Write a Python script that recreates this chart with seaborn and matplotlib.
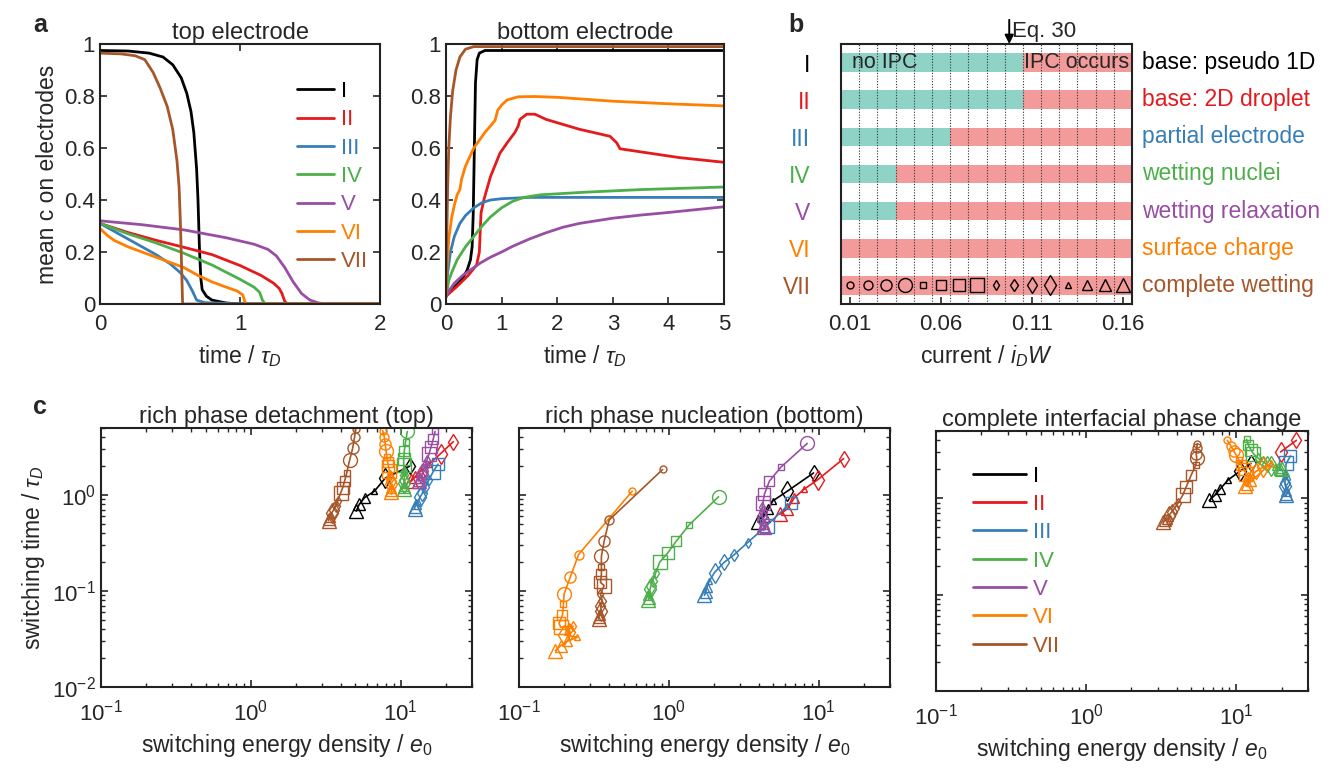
import numpy as np
import pandas as pd
import matplotlib
matplotlib.use("Agg")
import matplotlib.pyplot as plt
import matplotlib.transforms as mtransforms
from matplotlib.ticker import FuncFormatter, LogLocator, NullFormatter
import seaborn as sns

nan = np.nan
series = ["I", "II", "III", "IV", "V", "VI", "VII"]
colors = ["#000000", "#e41a1c", "#377eb8", "#4daf4a", "#984ea3", "#ff7f00", "#a65628"]
case_names = ["base: pseudo 1D", "base: 2D droplet", "partial electrode", "wetting nuclei",
              "wetting relaxation", "surface charge", "complete wetting"]

# ---- panel a: mean c on electrodes vs time ----
top_time = {
    "I": [0, 0.2, 0.35, 0.45, 0.52, 0.58, 0.62, 0.65, 0.67, 0.69, 0.70, 0.71, 0.72, 0.73, 0.76, 0.80, 0.9, 1.0, 2.0],
    "II": [0, 0.2, 0.4, 0.6, 0.8, 1.0, 1.15, 1.24, 1.28, 1.30, 1.32, 1.34, 2.0],
    "III": [0, 0.1, 0.2, 0.3, 0.4, 0.5, 0.575, 0.62, 0.66, 0.69, 0.75, 1.0, 2.0],
    "IV": [0, 0.2, 0.4, 0.6, 0.8, 1.0, 1.1, 1.14, 1.16, 1.18, 2.0],
    "V": [0, 0.3, 0.6, 0.9, 1.1, 1.2, 1.26, 1.32, 1.38, 1.44, 1.5, 1.56, 1.62, 2.0],
    "VI": [0, 0.05, 0.1, 0.2, 0.3, 0.4, 0.5, 0.6, 0.7, 0.8, 0.9, 0.98, 1.02, 1.04, 2.0],
    "VII": [0, 0.15, 0.25, 0.32, 0.38, 0.43, 0.48, 0.52, 0.55, 0.565, 0.575, 0.585, 0.59, 2.0],
}
top_conc = {
    "I": [0.975, 0.973, 0.965, 0.95, 0.92, 0.87, 0.81, 0.74, 0.66, 0.52, 0.40, 0.22, 0.10, 0.055, 0.03, 0.015, 0.004, 0.0, 0.0],
    "II": [0.31, 0.275, 0.245, 0.218, 0.19, 0.148, 0.11, 0.08, 0.06, 0.04, 0.01, 0.0, 0.0],
    "III": [0.31, 0.28, 0.25, 0.22, 0.19, 0.155, 0.12, 0.09, 0.05, 0.015, 0.005, 0.001, 0.0],
    "IV": [0.31, 0.27, 0.235, 0.195, 0.15, 0.095, 0.065, 0.045, 0.015, 0.0, 0.0],
    "V": [0.32, 0.305, 0.285, 0.255, 0.23, 0.21, 0.185, 0.14, 0.085, 0.04, 0.015, 0.004, 0.0, 0.0],
    "VI": [0.29, 0.265, 0.245, 0.22, 0.2, 0.18, 0.16, 0.14, 0.11, 0.085, 0.065, 0.05, 0.035, 0.0, 0.0],
    "VII": [0.965, 0.962, 0.955, 0.94, 0.89, 0.83, 0.76, 0.67, 0.55, 0.45, 0.30, 0.10, 0.0, 0.0],
}
bot_time = {
    "I": [0, 0.1, 0.2, 0.3, 0.38, 0.44, 0.47, 0.49, 0.51, 0.53, 0.56, 0.6, 0.7, 5],
    "II": [0, 0.2, 0.4, 0.55, 0.6, 0.63, 0.68, 0.8, 0.97, 1.1, 1.24, 1.3, 1.33, 1.45, 1.6, 1.8, 2.4, 2.95, 3.07, 3.13, 3.6, 4.2, 5],
    "III": [0, 0.03, 0.08, 0.15, 0.25, 0.35, 0.5, 0.65, 0.8, 1.0, 1.5, 3, 5],
    "IV": [0, 0.05, 0.1, 0.2, 0.35, 0.5, 0.65, 0.8, 1.0, 1.2, 1.4, 1.7, 2.5, 3.5, 5],
    "V": [0, 0.05, 0.15, 0.3, 0.5, 0.62, 0.8, 1.0, 1.2, 1.5, 1.8, 2.1, 2.4, 3.0, 3.5, 4.0, 4.5, 5],
    "VI": [0, 0.02, 0.05, 0.1, 0.15, 0.2, 0.25, 0.28, 0.35, 0.5, 0.7, 0.88, 0.93, 1.0, 1.1, 1.3, 1.6, 2.0, 3.0, 4.0, 5],
    "VII": [0, 0.01, 0.03, 0.05, 0.08, 0.12, 0.18, 0.25, 0.35, 0.5, 1, 5],
}
bot_conc = {
    "I": [0.03, 0.055, 0.075, 0.1, 0.13, 0.17, 0.22, 0.35, 0.6, 0.85, 0.94, 0.965, 0.975, 0.975],
    "II": [0.03, 0.068, 0.11, 0.15, 0.2, 0.35, 0.4, 0.49, 0.58, 0.62, 0.66, 0.685, 0.71, 0.73, 0.73, 0.71, 0.672, 0.645, 0.62, 0.597, 0.582, 0.563, 0.545],
    "III": [0.03, 0.12, 0.2, 0.26, 0.31, 0.34, 0.37, 0.39, 0.4, 0.405, 0.41, 0.41, 0.41],
    "IV": [0.03, 0.09, 0.12, 0.17, 0.22, 0.26, 0.3, 0.335, 0.37, 0.395, 0.41, 0.42, 0.43, 0.44, 0.45],
    "V": [0.025, 0.05, 0.08, 0.11, 0.14, 0.158, 0.18, 0.2, 0.222, 0.25, 0.274, 0.295, 0.31, 0.33, 0.342, 0.352, 0.363, 0.374],
    "VI": [0.03, 0.15, 0.25, 0.33, 0.38, 0.42, 0.44, 0.48, 0.53, 0.6, 0.66, 0.705, 0.745, 0.765, 0.785, 0.797, 0.798, 0.795, 0.78, 0.77, 0.762],
    "VII": [0.03, 0.2, 0.45, 0.6, 0.72, 0.82, 0.9, 0.95, 0.98, 0.99, 0.99, 0.99],
}

# ---- panel b: IPC map ----
currents = [0.01, 0.02, 0.03, 0.04, 0.05, 0.06, 0.07, 0.08, 0.09, 0.10, 0.11, 0.12, 0.13, 0.14, 0.15, 0.16]
ipc_onset = [0.11, 0.11, 0.07, 0.04, 0.04, 0.01, 0.01]
eq30_current = 0.0975

# ---- panel c: switching energy / time, one entry per current from IPC onset on ----
det_energy = {
    "I": [11.5, 7.9, 6.7, 5.75, 5.3, 5.06],
    "II": [22.5, 18.5, 15.5, 13.5, 12.5, 11.8],
    "III": [17.8, 16.5, 15.5, 14.6, 14.0, 13.5, 13.0, 12.7, 12.5, 12.4],
    "IV": [11.1, 10.8, 10.6, 10.5, 10.5, 10.6, 10.6, 10.6, 10.6, 10.6, 10.6, 10.6, 10.6],
    "V": [nan, 17.0, 16.5, 16.0, 15.5, 15.0, 14.6, 14.2, 13.9, 13.6, 13.4, 13.3, 13.2],
    "VI": [7.6, 7.8, 7.9, 8.0, 8.1, 8.2, 8.3, 8.4, 8.5, 8.5, 8.6, 8.6, 8.7, 8.7, 8.7, 8.7],
    "VII": [5.01, 4.93, 4.79, 4.57, 4.37, 4.23, 4.1, 3.98, 3.8, 3.69, 3.57, 3.47, 3.41, 3.36, 3.31, 3.31],
}
det_time = {
    "I": [2.0, 1.5, 1.1, 0.94, 0.8, 0.68],
    "II": [3.6, 2.7, 2.1, 1.75, 1.55, 1.4],
    "III": [2.1, 1.75, 1.45, 1.2, 1.05, 0.95, 0.85, 0.8, 0.76, 0.72],
    "IV": [4.6, 3.6, 2.9, 2.4, 2.05, 1.8, 1.6, 1.45, 1.35, 1.28, 1.24, 1.2, 1.17],
    "V": [nan, 4.6, 3.8, 3.2, 2.7, 2.3, 2.0, 1.8, 1.65, 1.55, 1.5, 1.45, 1.4],
    "VI": [4.7, 4.0, 3.4, 2.9, 2.5, 2.2, 2.0, 1.8, 1.6, 1.5, 1.4, 1.3, 1.25, 1.18, 1.12, 1.08],
    "VII": [4.84, 4.0, 3.08, 2.31, 1.69, 1.4, 1.18, 1.05, 0.87, 0.77, 0.7, 0.65, 0.62, 0.59, 0.56, 0.54],
}
nuc_energy = {
    "I": [9.26, 6.2, 4.95, 4.6, 4.3, 3.95],
    "II": [14.7, 9.9, 8.0, 6.9, 6.2, 5.5],
    "III": [6.5, 4.5, 3.36, 2.74, 2.35, 2.02, 1.87, 1.8, 1.76, 1.73],
    "IV": [2.15, 1.37, 1.12, 0.985, 0.87, 0.82, 0.78, 0.76, 0.75, 0.74, 0.73, 0.74, 0.73],
    "V": [8.4, 5.6, 4.7, 4.35, 4.25, 4.2, 4.25, 4.2, 4.25, 4.35, 4.3, 4.25, 4.3],
    "VI": [0.57, 0.25, 0.22, 0.20, 0.198, 0.195, 0.185, 0.19, 0.23, 0.215, 0.22, 0.2, 0.245, 0.21, 0.19, 0.175],
    "VII": [0.91, 0.40, 0.37, 0.355, 0.355, 0.355, 0.35, 0.37, 0.35, 0.36, 0.35, 0.355, 0.35, 0.345, 0.34, 0.34],
}
nuc_time = {
    "I": [1.7, 1.1, 0.87, 0.71, 0.6, 0.52],
    "II": [2.4, 1.45, 1.15, 0.94, 0.72, 0.63],
    "III": [0.83, 0.48, 0.32, 0.24, 0.2, 0.156, 0.128, 0.11, 0.097, 0.09],
    "IV": [0.96, 0.49, 0.33, 0.25, 0.2, 0.156, 0.128, 0.113, 0.105, 0.095, 0.09, 0.085, 0.081],
    "V": [3.45, 1.95, 1.4, 1.02, 0.83, 0.75, 0.66, 0.6, 0.55, 0.52, 0.5, 0.48, 0.47],
    "VI": [1.1, 0.24, 0.14, 0.093, 0.073, 0.056, 0.046, 0.042, 0.043, 0.04, 0.037, 0.035, 0.033, 0.03, 0.027, 0.024],
    "VII": [1.85, 0.55, 0.33, 0.23, 0.18, 0.15, 0.123, 0.114, 0.093, 0.079, 0.07, 0.062, 0.06, 0.056, 0.053, 0.051],
}
cip_energy = {
    "I": [12.5, 10.5, 8.8, 7.8, 7.2, 6.6],
    "II": [25.1, 19.7, nan, nan, nan, nan],
    "III": [22.9, 21.5, 21.0, 21.3, 21.0, 21.2, 21.5, 21.3, 21.5, 21.4],
    "IV": [nan, 11.7, 12.0, 12.5, 13.0, 14.0, 15.0, 16.0, 17.0, 18.0, 19.0, 19.5, 20.0],
    "V": [nan] * 13,
    "VI": [8.7, 9.2, 9.6, 10.0, 10.4, 10.8, 11.2, 11.6, 12.0, 11.8, 13.5, 15.0, 17.0, 12.5, 11.8, 11.5],
    "VII": [5.5, 5.45, 5.4, 5.45, 5.36, 5.0, 4.64, 4.4, 4.08, 3.88, 3.7, 3.55, 3.6, 3.45, 3.35, 3.25],
}
cip_time = {
    "I": [2.3, 1.9, 1.55, 1.25, 1.08, 0.95],
    "II": [4.0, 3.03, nan, nan, nan, nan],
    "III": [2.75, 2.3, 1.75, 1.6, 1.45, 1.35, 1.25, 1.18, 1.12, 1.08],
    "IV": [nan, 4.1, 3.6, 3.2, 2.9, 2.6, 2.4, 2.25, 2.15, 2.1, 2.05, 2.0, 2.0],
    "V": [nan] * 13,
    "VI": [4.0, 3.5, 3.1, 2.8, 2.5, 2.2, 2.0, 1.8, 1.65, 1.55, 1.9, 2.1, 2.3, 1.5, 1.4, 1.35],
    "VII": [3.7, 3.3, 2.9, 2.6, 2.2, 1.74, 1.32, 1.08, 0.89, 0.79, 0.72, 0.66, 0.63, 0.61, 0.59, 0.57],
}

marker_shapes = ["o", "s", "d", "^"]
marker_sizes = [5, 6.5, 8, 10]

sns.set_style("ticks")
plt.rcParams["font.family"] = ["Liberation Sans", "DejaVu Sans"]
plt.rcParams["mathtext.fontset"] = "custom"
plt.rcParams["mathtext.rm"] = "Liberation Sans"
plt.rcParams["mathtext.it"] = "Liberation Sans:italic"
plt.rcParams["axes.linewidth"] = 1.5
plt.rcParams["axes.edgecolor"] = "#222222"

TICK = 16
LAB = 16.5
TITLE = 17


def style_axes(ax):
    ax.tick_params(direction="in", top=True, right=True, labelsize=TICK, width=1.2, length=5)
    ax.tick_params(axis="x", pad=7)
    ax.tick_params(which="minor", direction="in", top=True, right=True, width=1.0, length=3)


fig = plt.figure(figsize=(13.28, 7.68), dpi=100)
W, H = 1328.0, 768.0


def px_axes(x0, y0, x1, y1):
    return fig.add_axes([x0 / W, 1 - y1 / H, (x1 - x0) / W, (y1 - y0) / H])


fmt_g = FuncFormatter(lambda v, p: "%g" % v)

# ---- a ----
ax_top = px_axes(100, 44, 380, 304)
ax_bot = px_axes(446, 44, 724, 304)
for ax, tt, cc, xmax, title in [(ax_top, top_time, top_conc, 2, "top electrode"),
                                (ax_bot, bot_time, bot_conc, 5, "bottom electrode")]:
    for name, col in zip(series, colors):
        sns.lineplot(x=tt[name], y=cc[name], sort=False, estimator=None, color=col,
                     lw=2.0, ax=ax, label=name)
    ax.set_xlim(0, xmax)
    ax.set_ylim(0, 1)
    ax.set_xticks(range(0, xmax + 1))
    ax.set_yticks([0, 0.2, 0.4, 0.6, 0.8, 1])
    ax.xaxis.set_major_formatter(fmt_g)
    ax.yaxis.set_major_formatter(fmt_g)
    style_axes(ax)
    ax.set_title(title, fontsize=TITLE, pad=3)
    ax.set_xlabel(r"time / $\tau_D$", fontsize=LAB, labelpad=6)
    ax.set_ylabel("")
ax_bot.get_legend().remove()
leg = ax_top.legend(loc="upper left", bbox_to_anchor=(0.665, 0.9), frameon=False, fontsize=TICK,
                    handlelength=1.65, handletextpad=0.3, labelspacing=0.33, borderpad=0)
for txt, col in zip(leg.get_texts(), colors):
    txt.set_color(col)
ax_top.set_ylabel("mean c on electrodes", fontsize=LAB)

# ---- b ----
ax_b = px_axes(841, 44, 1132, 304)
teal, pink = "#8ed3c6", "#f39a9b"
x_lo, x_hi = 0.005, 0.165
for i, onset in enumerate(ipc_onset):
    ax_b.barh(i + 1, onset - 0.005 - x_lo, left=x_lo, height=0.5, color=teal, lw=0, zorder=1)
    ax_b.barh(i + 1, x_hi - (onset - 0.005), left=onset - 0.005, height=0.5, color=pink, lw=0, zorder=1)
for k, cur in enumerate(currents[:-1]):
    ax_b.axvline(cur + 0.005, color="#333333", ls=(0, (1, 1.5)), lw=0.8, zorder=2)
for k, cur in enumerate(currents):
    ax_b.plot(cur, 7, marker=marker_shapes[k // 4], ms=marker_sizes[k % 4], mfc="none",
              mec="black", mew=1.0, ls="none", zorder=3)
ax_b.set_xlim(x_lo, x_hi)
ax_b.set_ylim(7.5, 0.5)
ax_b.set_xticks([0.01, 0.06, 0.11, 0.16])
ax_b.xaxis.set_major_formatter(FuncFormatter(lambda v, p: "%.2f" % v))
ax_b.set_yticks(range(1, 8))
ax_b.set_yticklabels(series)
style_axes(ax_b)
ax_b.tick_params(axis="y", labelsize=LAB, pad=22)
ax_b.tick_params(axis="x", top=False)
for lab, col in zip(ax_b.get_yticklabels(), colors):
    lab.set_color(col)
trans = mtransforms.blended_transform_factory(ax_b.transAxes, ax_b.transData)
for i, (name, col) in enumerate(zip(case_names, colors)):
    ax_b.text(1.035, i + 1, name, transform=trans, color=col, fontsize=LAB, va="center", ha="left")
ax_b.text(0.0113, 1, "no IPC", fontsize=15.5, va="center", ha="left", zorder=4)
ax_b.text(0.1058, 1, "IPC occurs", fontsize=15.5, va="center", ha="left", zorder=4)
ax_b.annotate("", xy=(eq30_current, 0.5), xytext=(eq30_current, -0.15), annotation_clip=False,
              arrowprops=dict(arrowstyle="-|>", color="black", lw=1.4, mutation_scale=13,
                              shrinkA=0, shrinkB=0))
ax_b.text(eq30_current + 0.0015, 0.17, "Eq. 30", fontsize=TICK, va="center", ha="left")
ax_b.set_xlabel(r"current / $i_DW$", fontsize=LAB, labelpad=6)

# ---- c ----
ax_c1 = px_axes(101, 428, 472, 687)
ax_c2 = px_axes(519, 428, 890, 687)
ax_c3 = px_axes(936, 431, 1308, 691)
panels_c = [(ax_c1, det_energy, det_time, "rich phase detachment (top)"),
            (ax_c2, nuc_energy, nuc_time, "rich phase nucleation (bottom)"),
            (ax_c3, cip_energy, cip_time, "complete interfacial phase change")]
for ax, energy, stime, title in panels_c:
    ax.set_xscale("log")
    ax.set_yscale("log")
    for name, col, onset in zip(series, colors, ipc_onset):
        start = currents.index(onset)
        df = pd.DataFrame({"e": energy[name], "t": stime[name]}).dropna()
        if len(df):
            sns.lineplot(data=df, x="e", y="t", sort=False, estimator=None, color=col,
                         lw=1.2, ax=ax)
        for k, (xv, yv) in enumerate(zip(energy[name], stime[name]), start=start):
            if np.isnan(xv):
                continue
            ax.plot(xv, yv, marker=marker_shapes[k // 4], ms=marker_sizes[k % 4], mfc="none",
                    mec=col, mew=1.0, ls="none")
    ax.set_xlim(0.1, 30)
    ax.set_ylim(0.01, 5)
    ax.xaxis.set_major_locator(LogLocator(base=10, numticks=5))
    ax.xaxis.set_minor_locator(LogLocator(base=10, subs=np.arange(2, 10), numticks=10))
    ax.yaxis.set_minor_locator(LogLocator(base=10, subs=np.arange(2, 10), numticks=10))
    ax.xaxis.set_minor_formatter(NullFormatter())
    ax.yaxis.set_minor_formatter(NullFormatter())
    style_axes(ax)
    ax.tick_params(axis="x", pad=9)
    ax.set_title(title, fontsize=TITLE, pad=3)
    ax.set_xlabel(r"switching energy density / $e_0$", fontsize=LAB, labelpad=5)
    ax.set_ylabel("")
ax_c1.set_ylabel(r"switching time / $\tau_D$", fontsize=LAB)
ax_c2.tick_params(labelleft=False)
ax_c3.tick_params(labelleft=False)
for name, col in zip(series, colors):
    ax_c3.plot([], [], color=col, lw=2.0, label=name)
leg3 = ax_c3.legend(loc="upper left", bbox_to_anchor=(0.07, 0.91), frameon=False, fontsize=TICK,
                    handlelength=2.4, handletextpad=0.3, labelspacing=0.33, borderpad=0)
for txt, col in zip(leg3.get_texts(), colors):
    txt.set_color(col)

fig.text(40 / W, 1 - 25 / H, "a", fontsize=18, fontweight="bold", ha="center", va="center")
fig.text(796 / W, 1 - 25 / H, "b", fontsize=18, fontweight="bold", ha="center", va="center")
fig.text(40 / W, 1 - 407 / H, "c", fontsize=18, fontweight="bold", ha="center", va="center")

fig.savefig("out.png", dpi=100)
